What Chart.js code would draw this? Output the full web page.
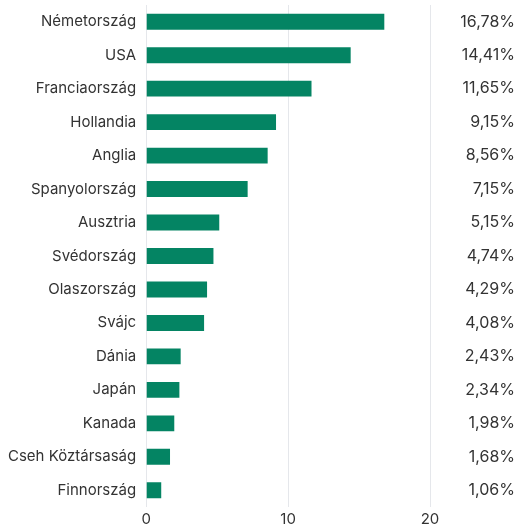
<!DOCTYPE html>
<html>
<head>
<meta charset="utf-8">
<script src="https://cdn.jsdelivr.net/npm/chart.js@4"></script>
<style>
  html, body { margin: 0; padding: 0; background: #fff; overflow: hidden; }
  #wrap { width: 517px; height: 540px; position: relative; margin-top: -14px; }
</style>
</head>
<body>
<div id="wrap"><canvas id="chart"></canvas></div>
<script>
const countries = ['Németország', 'USA', 'Franciaország', 'Hollandia', 'Anglia', 'Spanyolország', 'Ausztria',
    'Svédország', 'Olaszország', 'Svájc', 'Dánia', 'Japán', 'Kanada', 'Cseh Köztársaság', 'Finnország'];
const shares = [16.78, 14.41, 11.65, 9.15, 8.56, 7.15, 5.15, 4.74, 4.29, 4.08, 2.43, 2.34, 1.98, 1.68, 1.06];
const shareLabels = ['16,78%', '14,41%', '11,65%', '9,15%', '8,56%', '7,15%', '5,15%', '4,74%', '4,29%',
    '4,08%', '2,43%', '2,34%', '1,98%', '1,68%', '1,06%'];

// percentages printed at the right edge, outside the plot area
const rightLabels = {
    id: 'rightLabels',
    afterDatasetsDraw(chart) {
        const ctx = chart.ctx;
        const y = chart.scales.y;
        ctx.save();
        ctx.font = '16px Inter';
        ctx.fillStyle = '#333';
        ctx.textAlign = 'right';
        ctx.textBaseline = 'middle';
        shareLabels.forEach((t, i) => {
            ctx.fillText(t, chart.width - 2, y.getPixelForValue(i));
        });
        ctx.restore();
    }
};

const ctx = document.getElementById('chart').getContext('2d');
new Chart(ctx, {
    type: 'bar',
    data: {
        labels: countries,
        datasets: [{
            data: shares,
            backgroundColor: '#048463',
            barPercentage: 0.95,
            categoryPercentage: 0.5
        }]
    },
    options: {
        indexAxis: 'y',
        responsive: true,
        maintainAspectRatio: false,
        animation: false,
        layout: { autoPadding: false, padding: { top: 4, right: 87, left: -2, bottom: -6 } },
        plugins: { legend: { display: false }, tooltip: { enabled: false } },
        scales: {
            x: {
                min: 0,
                max: 20,
                ticks: { stepSize: 10, color: '#333', font: { family: 'Inter', size: 15 }, padding: 3 },
                grid: { color: '#e5e7eb', drawTicks: false },
                border: { display: false }
            },
            y: {
                ticks: { color: '#333', font: { family: 'Inter', size: 15 }, padding: 10 },
                grid: { display: false, drawTicks: false },
                border: { display: false }
            }
        }
    },
    plugins: [rightLabels]
});
</script>
</body>
</html>
